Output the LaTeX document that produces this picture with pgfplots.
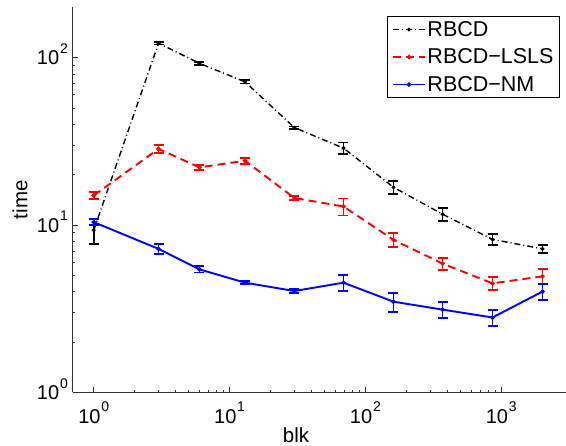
\documentclass[border=0pt]{standalone}
\usepackage{fontspec}
\setmainfont{Liberation Sans}
\usepackage{pgfplots}
\pgfplotsset{compat=1.18}
\usepackage{pgfplotstable}
\usetikzlibrary{calc}

% tick label: 10 with a raised exponent
\newcommand{\tp}[1]{10\kern0.8pt\raisebox{11.5pt}{\fontsize{14}{14}\selectfont #1}}

\pgfplotstableread{
x y e
1 9.3 1.6
3 122 2
6 92.5 2
13 71.7 1.7
30 38.2 0.6
69 28.8 2.3
161 16.8 1.5
370 11.6 1.0
863 8.2 0.6
2014 7.2 0.4
}\rbcd

\pgfplotstableread{
x y e
1 15.0 0.7
3 28.5 1.7
6 22.1 0.8
13 24.2 1.0
30 14.5 0.35
69 12.9 1.5
161 8.15 0.8
370 5.88 0.5
863 4.48 0.4
2014 4.93 0.5
}\lsls

\pgfplotstableread{
x y e
1 10.4 0.4
3 7.2 0.5
6 5.43 0.23
13 4.52 0.1
30 4.03 0.11
69 4.52 0.5
161 3.48 0.45
370 3.12 0.33
863 2.8 0.3
2014 4.0 0.42
}\nm

\begin{document}
\begin{tikzpicture}
\begin{axis}[
    scale only axis,
    width=493.3pt, height=385pt,
    xmode=log, ymode=log,
    xmin=0.7, xmax=3000,
    ymin=1, ymax=200,
    axis x line*=bottom, axis y line*=left,
    axis line style={-, line width=0.8pt, black!80},
    tick align=inside,
    major tick length=5pt, minor tick length=2.7pt,
    every tick/.style={black!80, line width=0.6pt},
    xtick={1,10,100,1000},
    xticklabels={\tp{0},\tp{1},\tp{2},\tp{3}},
    ytick={1,10,100},
    yticklabels={\tp{0},\tp{1},\tp{2}},
    tick label style={font=\fontsize{20}{24}\selectfont, inner sep=0pt},
    xticklabel style={anchor=base, yshift=-31pt},
    yticklabel style={anchor=base east, xshift=-4.7pt, yshift=-7.3pt},
    xlabel={blk}, ylabel={time},
    label style={font=\fontsize{20.5}{24}\selectfont},
    xlabel style={at={(axis description cs:0.4527,-0.1317)}, anchor=base, inner sep=0pt},
    ylabel style={at={(axis description cs:-0.1068,0.5)}, anchor=center, inner sep=0pt},
    legend style={at={(1,1)}, anchor=north east, xshift=-6pt, yshift=-8.5pt,
        font=\fontsize{21.5}{24}\selectfont, draw=black, line width=0.9pt,
        inner xsep=4.5pt, inner ysep=3.5pt, row sep=8pt,
        nodes={inner sep=1.5pt}},
    legend cell align=left,
    legend image code/.code={
        \draw[mark repeat=2, mark phase=2, #1] plot coordinates {(0pt,0pt) (16pt,0pt) (32pt,0pt)};
    },
    error bars/y dir=both,
    error bars/y explicit,
]
\addplot[black, line width=1.4pt, dash pattern=on 6pt off 3pt on 1pt off 3pt,
    mark=*, mark size=1.2pt, mark options={solid},
    error bars/error bar style={solid, line width=1.8pt},
    error bars/error mark options={solid, line width=1.8pt, mark size=5pt, rotate=90}]
    table[x=x, y=y, y error=e] {\rbcd};
\addlegendentry{RBCD}
\addplot[red, line width=1.9pt, dash pattern=on 8pt off 5pt,
    mark=*, mark size=1.2pt, mark options={solid},
    error bars/error bar style={solid, line width=1.8pt},
    error bars/error mark options={solid, line width=1.8pt, mark size=5pt, rotate=90}]
    table[x=x, y=y, y error=e] {\lsls};
\addlegendentry{RBCD−LSLS}
\addplot[blue, line width=1.9pt, solid,
    mark=*, mark size=1.2pt,
    error bars/error bar style={solid, line width=1.8pt},
    error bars/error mark options={solid, line width=1.8pt, mark size=5pt, rotate=90}]
    table[x=x, y=y, y error=e] {\nm};
\addlegendentry{RBCD−NM}
\end{axis}
\pgfresetboundingbox
\path ($(current axis.south west)+(-72.7pt,-53.7pt)$) rectangle ($(current axis.north east)+(0pt,7.3pt)$);
\end{tikzpicture}
\end{document}
